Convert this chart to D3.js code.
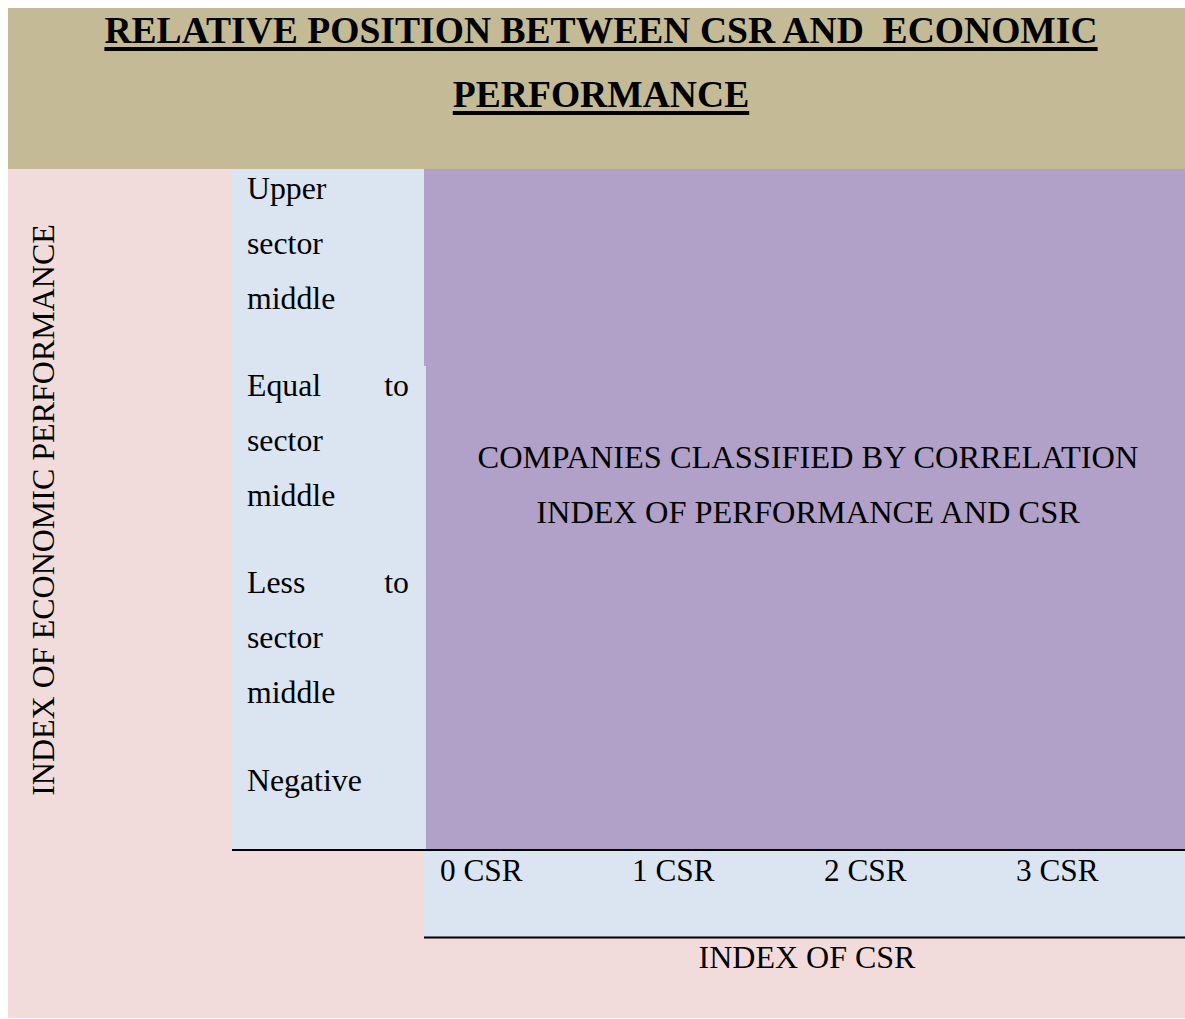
<!DOCTYPE html>
<html><head><meta charset="utf-8">
<script src="https://cdn.jsdelivr.net/npm/d3@7"></script>
<style>
html,body{margin:0;padding:0;background:#fff;}
svg{display:block;}
</style></head>
<body>
<script>
const titleLines = ["RELATIVE POSITION BETWEEN CSR AND  ECONOMIC", "PERFORMANCE"];
const csrCategories = ["0 CSR", "1 CSR", "2 CSR", "3 CSR"];
const performanceLevels = [
  [["Upper"], ["sector"], ["middle"]],
  [["Equal", "to"], ["sector"], ["middle"]],
  [["Less", "to"], ["sector"], ["middle"]],
  [["Negative"]]
];
const yAxisTitle = "INDEX OF ECONOMIC PERFORMANCE";
const xAxisTitle = "INDEX OF CSR";
const centerLines = ["COMPANIES CLASSIFIED BY CORRELATION", "INDEX OF PERFORMANCE AND CSR"];

const FONT = "'Liberation Serif'";
const W = 1185, H = 1019;
const svg = d3.select("body").append("svg").attr("width", W).attr("height", H);

function txt(x, y, s, size, anchor) {
  return svg.append("text").attr("x", x).attr("y", y)
    .attr("text-anchor", anchor || "start")
    .style("font-family", FONT).style("font-size", size + "px")
    .attr("fill", "#000").text(s);
}

// backgrounds
svg.append("rect").attr("x", 8).attr("y", 8).attr("width", W - 8).attr("height", 161).attr("fill", "#C4BB96");
svg.append("rect").attr("x", 8).attr("y", 169).attr("width", W - 8).attr("height", 849).attr("fill", "#F2DCDB");
svg.append("rect").attr("x", 232).attr("y", 169).attr("width", 193).attr("height", 681).attr("fill", "#DBE5F1");
svg.append("rect").attr("x", 424).attr("y", 169).attr("width", W - 424).attr("height", 197).attr("fill", "#B1A0C7");
svg.append("rect").attr("x", 426).attr("y", 366).attr("width", W - 426).attr("height", 484).attr("fill", "#B1A0C7");
svg.append("rect").attr("x", 424).attr("y", 851).attr("width", W - 424).attr("height", 86).attr("fill", "#DBE5F1");
svg.append("line").attr("x1", 232).attr("x2", W).attr("y1", 850).attr("y2", 850).attr("stroke", "#000").attr("stroke-width", 2);
svg.append("line").attr("x1", 424).attr("x2", W).attr("y1", 937.5).attr("y2", 937.5).attr("stroke", "#000").attr("stroke-width", 2);

// title
const titleY = d3.scalePoint().domain(d3.range(titleLines.length)).range([43, 107]);
titleLines.forEach((t, i) => {
  const tx = txt(601, titleY(i), t, 37.6, "middle").style("font-weight", "bold").style("white-space", "pre");
  const bb = tx.node().getBBox();
  svg.append("rect").attr("x", bb.x).attr("y", titleY(i) + 4).attr("width", bb.width).attr("height", 4).attr("fill", "#000");
});

// row labels
const groupY = d3.scalePoint().domain(d3.range(performanceLevels.length)).range([198.5, 790.5]);
performanceLevels.forEach((lines, g) => {
  lines.forEach((words, j) => {
    const y = groupY(g) + j * 55;
    txt(247, y, words[0], 31.8);
    if (words.length > 1) txt(409, y, words[words.length - 1], 31.8, "end");
  });
});

// y axis title
txt(0, 0, yAxisTitle, 32, "middle").attr("transform", "translate(54,510) rotate(-90)");

// center text
const cY = d3.scalePoint().domain(d3.range(centerLines.length)).range([467.5, 522.5]);
centerLines.forEach((t, i) => txt(808, cY(i), t, 32.4, "middle"));

// x categories
const x = d3.scalePoint().domain(csrCategories).range([440, 1016]);
csrCategories.forEach(d => txt(x(d), 881, d, 31.3));

txt(807, 968, xAxisTitle, 32, "middle");
</script>
</body></html>
